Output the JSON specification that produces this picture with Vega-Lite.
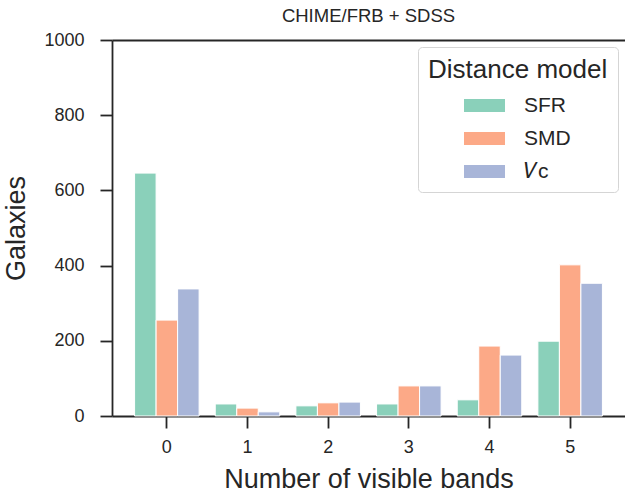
{
  "$schema": "https://vega.github.io/schema/vega-lite/v6.json",
  "autosize": {"type": "none"},
  "padding": {"left": 112, "top": 40, "right": 0, "bottom": 83},
  "width": 513,
  "height": 376,
  "background": "white",
  "title": {"text": "CHIME/FRB + SDSS", "fontSize": 18.5, "font": "Liberation Sans", "fontWeight": "normal", "color": "#262626", "anchor": "middle", "offset": 6},
  "data": {"values": [
    {"bands": "0", "model": "SFR", "galaxies": 646},
    {"bands": "0", "model": "SMD", "galaxies": 255},
    {"bands": "0", "model": "Vc", "galaxies": 338},
    {"bands": "1", "model": "SFR", "galaxies": 32},
    {"bands": "1", "model": "SMD", "galaxies": 21},
    {"bands": "1", "model": "Vc", "galaxies": 11},
    {"bands": "2", "model": "SFR", "galaxies": 27},
    {"bands": "2", "model": "SMD", "galaxies": 35},
    {"bands": "2", "model": "Vc", "galaxies": 37},
    {"bands": "3", "model": "SFR", "galaxies": 32},
    {"bands": "3", "model": "SMD", "galaxies": 80},
    {"bands": "3", "model": "Vc", "galaxies": 80},
    {"bands": "4", "model": "SFR", "galaxies": 43},
    {"bands": "4", "model": "SMD", "galaxies": 186},
    {"bands": "4", "model": "Vc", "galaxies": 162},
    {"bands": "5", "model": "SFR", "galaxies": 199},
    {"bands": "5", "model": "SMD", "galaxies": 402},
    {"bands": "5", "model": "Vc", "galaxies": 353}
  ]},
  "layer": [
    {
      "mark": {"type": "bar", "stroke": "white", "strokeWidth": 1},
      "encoding": {
        "x": {"field": "bands", "type": "nominal", "sort": ["0","1","2","3","4","5"],
          "scale": {"paddingInner": 0.2, "paddingOuter": 0.28},
          "axis": {"title": "Number of visible bands", "labelAngle": 0, "orient": "bottom", "labelPadding": 10, "titlePadding": 10}},
        "xOffset": {"field": "model", "type": "nominal", "sort": ["SFR","SMD","Vc"]},
        "y": {"field": "galaxies", "type": "quantitative",
          "scale": {"domain": [0, 1000], "nice": false},
          "axis": {"title": "Galaxies", "values": [0,200,400,600,800,1000], "format": "d", "grid": false, "labelPadding": 16, "titlePadding": 13}},
        "color": {"field": "model", "type": "nominal", "sort": ["SFR","SMD","Vc"],
          "scale": {"domain": ["SFR","SMD","Vc"], "range": ["#8ad0ba","#fca987","#a8b5d8"]},
          "legend": {"title": "Distance model", "orient": "none", "legendX": 306, "legendY": 7,
            "labelExpr": "datum.label == 'Vc' ? '𝑉ᴄ' : datum.label"}}
      }
    },
    {
      "mark": {"type": "tick", "opacity": 0},
      "encoding": {
        "x": {"field": "bands", "type": "nominal", "sort": ["0","1","2","3","4","5"],
          "axis": {"orient": "top", "labels": false, "ticks": false, "title": null}}
      }
    }
  ],
  "resolve": {"axis": {"x": "independent"}},
  "config": {
    "font": "Liberation Sans",
    "view": {"stroke": null},
    "axis": {
      "domainColor": "#262626", "domainWidth": 1.8, "tickColor": "#262626", "tickWidth": 1.8, "tickSize": 12,
      "labelColor": "#262626", "labelFontSize": 18, "labelFont": "Liberation Sans",
      "titleColor": "#262626", "titleFontSize": 27, "titleFont": "Liberation Sans", "titleFontWeight": "normal"
    },
    "legend": {
      "titleFontSize": 26, "titleFont": "Liberation Sans", "titleFontWeight": "normal", "titleColor": "#262626",
      "labelFontSize": 21, "labelFont": "Liberation Sans", "labelColor": "#262626",
      "symbolType": "M-1,-0.32H1V0.32H-1Z", "symbolSize": 1681, "symbolStrokeWidth": 0,
      "symbolOffset": 36, "labelOffset": 19, "rowPadding": 2,
      "padding": 10, "strokeColor": "#d5d5d5", "fillColor": "rgba(255,255,255,0.8)", "cornerRadius": 4,
      "titlePadding": 2
    }
  }
}
